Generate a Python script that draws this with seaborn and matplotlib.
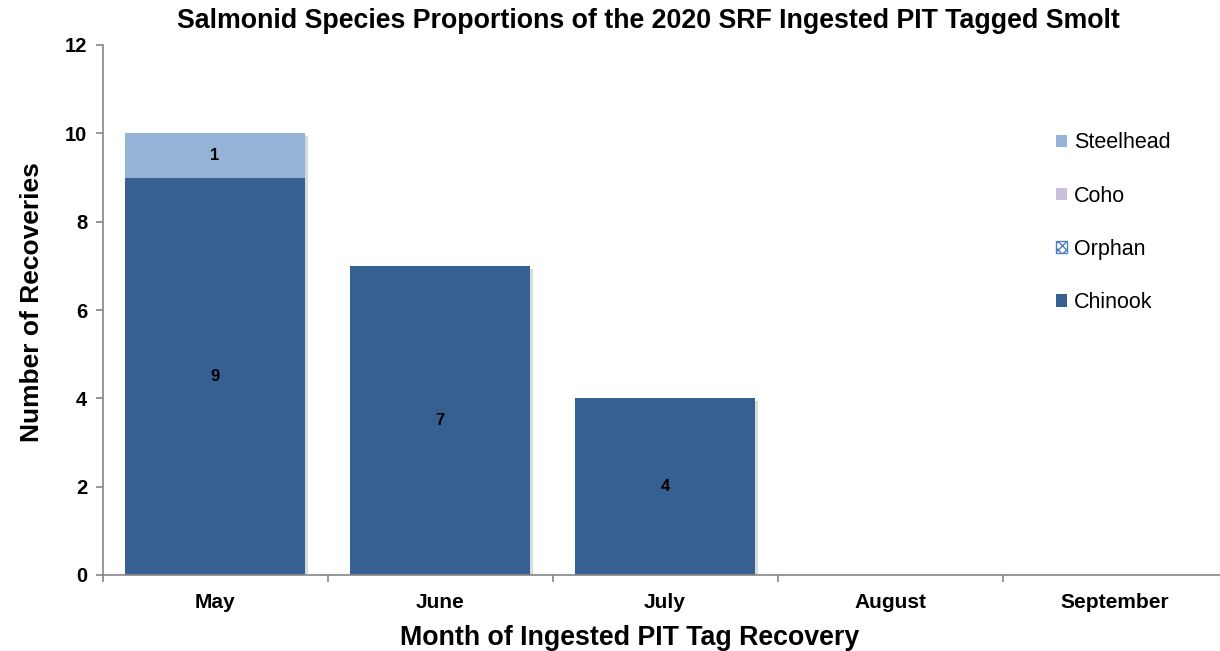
import matplotlib.pyplot as plt
import matplotlib.patches as mpatches
import matplotlib.patheffects as pe
import pandas as pd
import seaborn as sns

# Data
months = ["May", "June", "July", "August", "September"]
chinook = [9, 7, 4, 0, 0]
orphan = [0, 0, 0, 0, 0]
coho = [0, 0, 0, 0, 0]
steelhead = [1, 0, 0, 0, 0]

colors = {"Steelhead": "#95B3D7", "Coho": "#CCC1DA", "Orphan": "#4F81BD", "Chinook": "#376092"}

df = pd.DataFrame({"month": months, "Chinook": chinook, "Orphan": orphan,
                   "Coho": coho, "Steelhead": steelhead})
# cumulative layers for stacking
df["l_chinook"] = df["Chinook"]
df["l_orphan"] = df["l_chinook"] + df["Orphan"]
df["l_coho"] = df["l_orphan"] + df["Coho"]
df["l_steel"] = df["l_coho"] + df["Steelhead"]

sns.set_style("white")
plt.rcParams["font.family"] = ["Liberation Sans", "DejaVu Sans"]
plt.rcParams["text.color"] = "black"
plt.rcParams["axes.labelcolor"] = "black"
plt.rcParams["xtick.color"] = "black"
plt.rcParams["ytick.color"] = "black"

fig = plt.figure(figsize=(12.2, 6.51), dpi=100)
ax = fig.add_axes([102.5 / 1220, 1 - 575 / 651, 1125 / 1220, 530 / 651])

shadow = [pe.SimplePatchShadow(offset=(2, -2), alpha=0.18), pe.Normal()]
sns.barplot(data=df, x="month", y="l_steel", color=colors["Steelhead"], width=0.8,
            saturation=1, ax=ax, edgecolor="none")
sns.barplot(data=df, x="month", y="l_coho", color=colors["Coho"], width=0.8,
            saturation=1, ax=ax, edgecolor="none")
sns.barplot(data=df, x="month", y="l_orphan", color="white", width=0.8,
            saturation=1, ax=ax, edgecolor=colors["Orphan"], hatch="xx", linewidth=0)
sns.barplot(data=df, x="month", y="l_chinook", color=colors["Chinook"], width=0.8,
            saturation=1, ax=ax, edgecolor="none")
for p in ax.patches[:5]:
    p.set_path_effects(shadow)

# value labels
for i, row in df.iterrows():
    if row["Chinook"] > 0:
        ax.text(i, row["Chinook"] / 2, str(row["Chinook"]), ha="center", va="center",
                fontsize=12, fontweight="bold")
    if row["Steelhead"] > 0:
        ax.text(i, row["l_coho"] + row["Steelhead"] / 2, str(row["Steelhead"]),
                ha="center", va="center", fontsize=12, fontweight="bold")

ax.set_ylim(0, 12)
ax.set_xlim(-0.5, 4.5)
ax.set_yticks(range(0, 13, 2))
ax.set_yticklabels([str(v) for v in range(0, 13, 2)], fontsize=14.5, fontweight="bold")
ax.set_xticks(range(5))
ax.set_xticklabels(months, fontsize=15, fontweight="bold")
ax.set_xticks([i - 0.5 for i in range(6)], minor=True)
ax.tick_params(axis="x", which="major", bottom=False, length=0, pad=13)
ax.tick_params(axis="x", which="minor", bottom=True, length=5, color="#868686",
               direction="out", width=1.2)
ax.tick_params(axis="y", left=True, length=5, color="#868686", direction="out",
               width=1.2, pad=6)

for s in ["top", "right"]:
    ax.spines[s].set_visible(False)
for s in ["left", "bottom"]:
    ax.spines[s].set_color("#868686")
    ax.spines[s].set_linewidth(1.2)

ax.set_xlabel("Month of Ingested PIT Tag Recovery", fontsize=19.3, fontweight="bold", labelpad=6)
ax.xaxis.set_label_coords((630 - 102.5) / 1125, -0.095)
ax.set_ylabel("Number of Recoveries", fontsize=19, fontweight="bold", labelpad=14)
ax.yaxis.set_label_coords(-0.052, (575 - 302) / 530)
ax.set_title("Salmonid Species Proportions of the 2020 SRF Ingested PIT Tagged Smolt",
             fontsize=19.3, fontweight="bold", pad=12, x=(648 - 102.5) / 1125)

handles = [
    mpatches.Patch(facecolor=colors["Steelhead"], edgecolor="none", label="Steelhead"),
    mpatches.Patch(facecolor=colors["Coho"], edgecolor="none", label="Coho"),
    mpatches.Patch(facecolor="white", edgecolor=colors["Orphan"], hatch="xxxx", label="Orphan"),
    mpatches.Patch(facecolor=colors["Chinook"], edgecolor="none", label="Chinook"),
]
ax.legend(handles=handles, loc="upper left", bbox_to_anchor=(1037 / 1220, 1 - 113 / 651),
          bbox_transform=fig.transFigure, frameon=False, fontsize=15.5,
          handlelength=0.5, handleheight=0.5, handletextpad=0.3, labelspacing=1.5)

fig.savefig("out.png", dpi=100)
